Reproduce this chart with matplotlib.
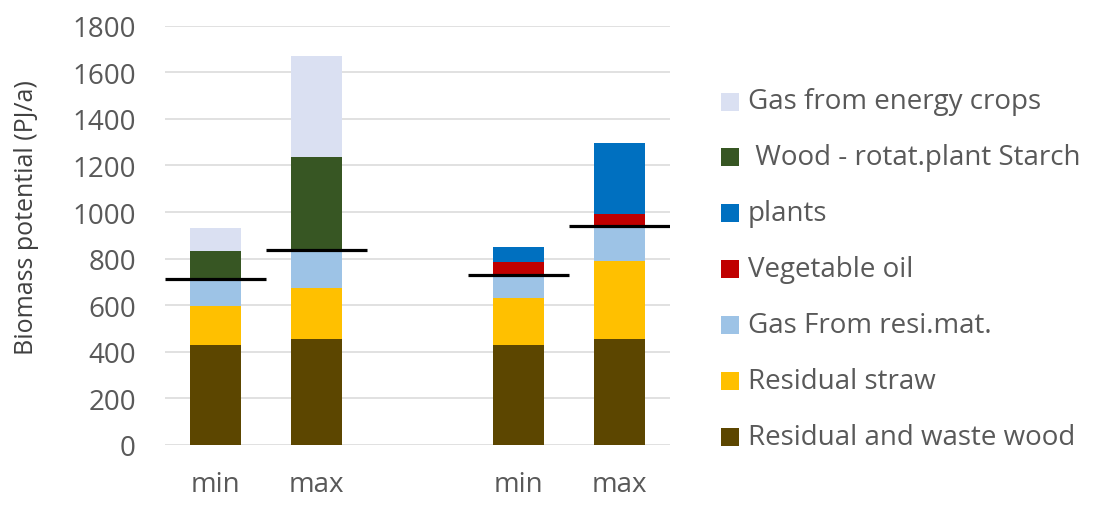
import numpy as np
import matplotlib
matplotlib.use("Agg")
import matplotlib.pyplot as plt
from matplotlib.patches import Rectangle

plt.rcParams['font.family'] = ['Open Sans', 'DejaVu Sans']

# Category slots: two scenarios (min / max) per group, with an empty slot between groups
categories = ["min", "max", "", "min", "max"]

# Stacked series, bottom to top (PJ/a)
residual_waste_wood = [430, 455, 0, 430, 455]
residual_straw = [167, 218, 0, 201, 334]
gas_resi_mat = [116, 164, 0, 100, 152]
vegetable_oil = [0, 0, 0, 53, 52]
plants = [0, 0, 0, 67, 304]
wood_rotat_starch = [121, 400, 0, 0, 0]
gas_energy_crops = [98, 434, 0, 0, 0]

# Reference level marked with a horizontal bar on each column
reference_level = [713, 837, np.nan, 731, 941]

series = [
    ("Residual and waste wood", residual_waste_wood, "#5C4600"),
    ("Residual straw", residual_straw, "#FFC000"),
    ("Gas From resi.mat.", gas_resi_mat, "#9DC3E6"),
    ("Vegetable oil", vegetable_oil, "#C00000"),
    ("plants", plants, "#0070C0"),
    (" Wood - rotat.plant Starch", wood_rotat_starch, "#375623"),
    ("Gas from energy crops", gas_energy_crops, "#DAE0F2"),
]

W, H = 1097, 506
fig = plt.figure(figsize=(W / 100, H / 100), dpi=100)
ax = fig.add_axes([165 / W, 1 - 446 / H, (670 - 165) / W, (446 - 26.7) / H])

x = np.arange(len(categories))
bottom = np.zeros(len(categories))
for label, vals, color in series:
    v = np.array(vals, dtype=float)
    ax.bar(x, v, width=0.5, bottom=bottom, color=color, linewidth=0, zorder=2)
    bottom += v

ax.hlines(reference_level, x - 0.5, x + 0.5, colors="black", linewidth=2.3, zorder=3)

ax.set_xlim(-0.5, len(categories) - 0.5)
ax.set_ylim(0, 1800)
ax.set_yticks(np.arange(0, 1801, 200))
ax.set_xticks([0, 1, 3, 4])
ax.set_xticklabels([categories[i] for i in [0, 1, 3, 4]])

for s in ax.spines.values():
    s.set_visible(False)
ax.grid(axis="y", color="#D9D9D9", linewidth=1.1, zorder=0)
ax.set_axisbelow(True)
ax.tick_params(axis="both", length=0, labelsize=20, colors="#595959")
ax.tick_params(axis="y", pad=21)
ax.tick_params(axis="x", pad=18)

fig.text(27 / W, 1 - 218 / H, "Biomass potential (PJ/a)", rotation=90,
         ha="center", va="center", fontsize=18, color="#404040")

# Legend, top entry first
ys = np.linspace(102.5, 438, len(series))
for (label, vals, color), yc in zip(reversed(series), ys):
    fig.patches.append(Rectangle((721 / W, 1 - (yc + 9) / H), 18 / W, 18 / H,
                                 transform=fig.transFigure, facecolor=color,
                                 edgecolor="none"))
    fig.text(748 / W, 1 - yc / H, label, ha="left", va="center",
             fontsize=20, color="#595959")

fig.savefig("out.png", dpi=100)
